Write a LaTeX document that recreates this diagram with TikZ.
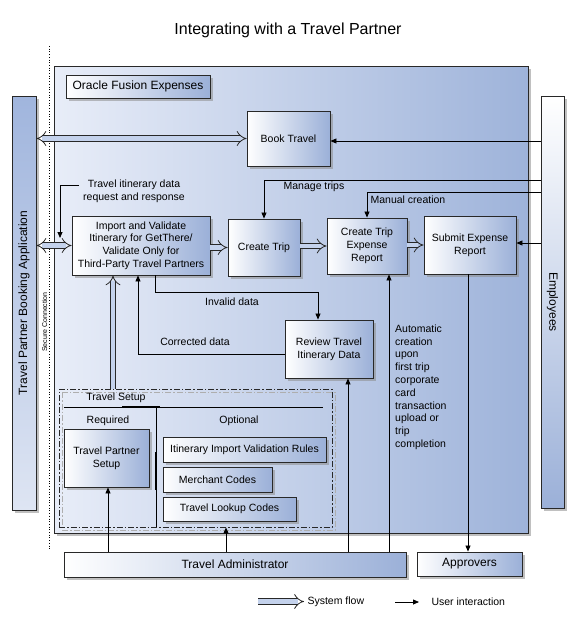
\documentclass[tikz,border=0pt]{standalone}
\usepackage{fontspec}
\setmainfont{Liberation Sans}
\usetikzlibrary{arrows.meta,shadows,calc}
\definecolor{bxblue}{RGB}{155,176,216}
\definecolor{fusL}{RGB}{232,237,248}
\definecolor{fusR}{RGB}{158,179,218}
\definecolor{tpTop}{RGB}{160,181,221}
\definecolor{tpBot}{RGB}{222,229,243}
\definecolor{bord}{RGB}{40,40,40}
\definecolor{sysfill}{RGB}{196,210,236}
\definecolor{shad}{RGB}{140,140,140}
\begin{document}
\begin{tikzpicture}[x=1pt,y=-1pt,
  every node/.style={font=\fontsize{10.5}{12.8}\selectfont},
  shadowed/.style={drop shadow={shadow xshift=2.5pt, shadow yshift=-2.5pt, fill=shad, opacity=0.55}},
  box/.style={shadowed, draw=bord, line width=0.9pt, left color=white, right color=bxblue, align=center, inner sep=2pt},
  bigtxt/.style={font=\fontsize{12}{14}\selectfont},
  user/.style={draw=black, line width=0.8pt, -{Triangle[length=6pt,width=5pt]}},
  sys/.style={draw=bord, line width=0.8pt, double=sysfill, double distance=4.5pt, -{Implies}},
  lbl/.style={align=center, inner sep=0pt},
]
\useasboundingbox (0,0) rectangle (576,624);

% title
\node[font=\fontsize{16}{19}\selectfont] (title) at (288,30) {Integrating with a Travel Partner};

% main container
\node[shadowed, draw=bord, line width=0.9pt, left color=fusL, right color=fusR,
      minimum width=474, minimum height=467, inner sep=0pt] (fusion) at (291,299.5) {};

% secure connection
\coordinate (dtop) at (49,46);
\coordinate (dbot) at (49,550);
\draw[dotted, line width=0.7pt] (dtop) -- (dbot);
\node[rotate=90, font=\fontsize{7}{8}\selectfont, inner sep=0pt] (sec) at (44.5,322) {Secure Connection};

% side boxes
\node[shadowed, draw=bord, line width=0.9pt, top color=tpTop, bottom color=tpBot,
      minimum width=24, minimum height=414, inner sep=0pt] (tpba) at (24,303) {};
\node[rotate=90, bigtxt] (tpbat) at (tpba.center) {Travel Partner Booking Application};
\node[shadowed, draw=bord, line width=0.9pt, top color=white, bottom color=bxblue,
      minimum width=23, minimum height=412, inner sep=0pt] (emp) at (552.5,302) {};
\node[rotate=-90, bigtxt] (empt) at (emp.center) {Employees};

% boxes
\node[box, bigtxt, minimum width=144, minimum height=23] (ofe) at (138,86.5) {Oracle Fusion Expenses};
\node[box, minimum width=83, minimum height=55] (book) at (288.5,138.5) {Book Travel};
\node[box, minimum width=138, minimum height=59] (imp) at (141,245.5)
   {Import and Validate\\Itinerary for GetThere/\\Validate Only for\\Third-Party Travel Partners};
\node[box, minimum width=72, minimum height=57] (trip) at (264,247.5) {Create Trip};
\node[box, minimum width=80, minimum height=56] (cter) at (367,246) {Create Trip\\Expense\\Report};
\node[box, minimum width=92, minimum height=58] (submit) at (470,245) {Submit Expense\\Report};
\node[box, minimum width=88, minimum height=58] (review) at (329,349) {Review Travel\\Itinerary Data};

% travel setup group
\coordinate (sgA) at (62,392);
\coordinate (sgB) at (335,530);
\draw[shad!70, line width=0.8pt, dash pattern=on 6pt off 2pt on 1.5pt off 2pt] (sgA) rectangle (sgB);
\node[draw=bord, line width=0.8pt, dash pattern=on 6pt off 2pt on 1.5pt off 2pt,
      minimum width=273, minimum height=138, inner sep=0pt] (setup) at (195.5,458) {};
\node (setupt) at (116,397.5) {Travel Setup};
\coordinate (hl1) at (64,407);
\coordinate (hl2) at (323,407);
\coordinate (vl1) at (156,407);
\draw[line width=0.9pt] (hl1) -- (hl2);
\draw[line width=0.9pt] (vl1) -- (vl1 |- setup.south);
\coordinate (th1) at (122,407);
\coordinate (th2) at (160,407);
\draw[line width=1.8pt] (th1) -- (th2);
\coordinate (tv1) at (156,452);
\coordinate (tv2) at (156,490);
\draw[line width=1.8pt] (tv1) -- (tv2);
\node (req) at (108,421) {Required};
\node (opt) at (239,421) {Optional};
\node[box, minimum width=85, minimum height=58] (tps) at (106.5,458) {Travel Partner\\Setup};
\node[box, minimum width=163, minimum height=25] (iivr) at (244.5,449.5) {Itinerary Import Validation Rules};
\node[box, minimum width=109, minimum height=25] (merch) at (217.5,479.5) {Merchant Codes};
\node[box, minimum width=133, minimum height=24] (tlc) at (229.5,509) {Travel Lookup Codes};

% bottom actors
\node[box, bigtxt, minimum width=342, minimum height=25] (admin) at (235,564.5) {Travel Administrator};
\node[box, bigtxt, minimum width=105, minimum height=24] (appr) at (469.5,564) {Approvers};

% labels
\node[lbl] (tidr) at (134,191.5) {Travel itinerary data\\request and response};
\node[lbl] (mtl) at (314,187) {Manage trips};
\node[lbl] (mcl) at (408,200) {Manual creation};
\node[lbl] (invl) at (232,302) {Invalid data};
\node[lbl] (corl) at (195,342) {Corrected data};
\node[anchor=north west, align=left, inner sep=0pt] (auto) at (395,324.5)
  {Automatic\\creation\\upon\\first trip\\corporate\\card\\transaction\\upload or\\trip\\completion};

% system flows
\draw[sys, {Implies}-{Implies}] (tpba.east |- book.west) -- (book.west);
\draw[sys, {Implies}-{Implies}] (tpba.east |- imp.west) -- (imp.west);
\draw[sys] (imp.east |- trip.west) -- (trip.west);
\draw[sys] (trip.east |- cter.west) -- (cter.west);
\draw[sys] (cter.east |- submit.west) -- (submit.west);
\coordinate (sx) at (113,0);
\draw[sys] (setup.north -| sx) -- (imp.south -| sx);

% user interactions
\coordinate (tidrA) at (79,185);
\coordinate (tidrB) at (60,238);
\draw[user] (tidrA) -| (tidrB);
\coordinate (bk) at ([yshift=-2.5pt]book.east);
\draw[user] (emp.west |- bk) -- (bk);
\coordinate (mtY) at (400,180);
\draw[user] (emp.west |- mtY) -| (trip.north);
\coordinate (mcY) at (400,192);
\draw[user] (emp.west |- mcY) -| (cter.north);
\coordinate (sb) at ([yshift=2pt]submit.east);
\draw[user] (emp.west |- sb) -- (sb);
\coordinate (sbx) at ([xshift=-2pt]submit.south);
\draw[user] (sbx) -- (sbx |- appr.north);
\coordinate (inv1) at (155,292);
\coordinate (inv2) at (318,292);
\draw[user] (imp.south -| inv1) -- (inv1) -- (inv2) -- (review.north -| inv2);
\coordinate (cor) at (138,354);
\draw[user] (review.west |- cor) -- (cor) -- (imp.south -| cor);
\coordinate (tpx) at (108,0);
\draw[user] (admin.north -| tpx) -- (tps.south -| tpx);
\coordinate (tlx) at (226,0);
\draw[user] (admin.north -| tlx) -- (setup.south -| tlx);
\coordinate (rvx) at (348,0);
\draw[user] (admin.north -| rvx) -- (review.south -| rvx);
\coordinate (ctx) at (389,0);
\draw[user] (admin.north -| ctx) -- (cter.south -| ctx);

% legend
\node[anchor=west] (lgsys) at (304,602) {System flow};
\coordinate (lgs) at (258,601.5);
\draw[sys] (lgs) -- (lgs -| lgsys.west);
\node[anchor=west] (lguser) at (428,602) {User interaction};
\coordinate (lgu) at (395,602);
\draw[user] (lgu) -- ([xshift=-9pt]lguser.west);
\end{tikzpicture}
\end{document}
